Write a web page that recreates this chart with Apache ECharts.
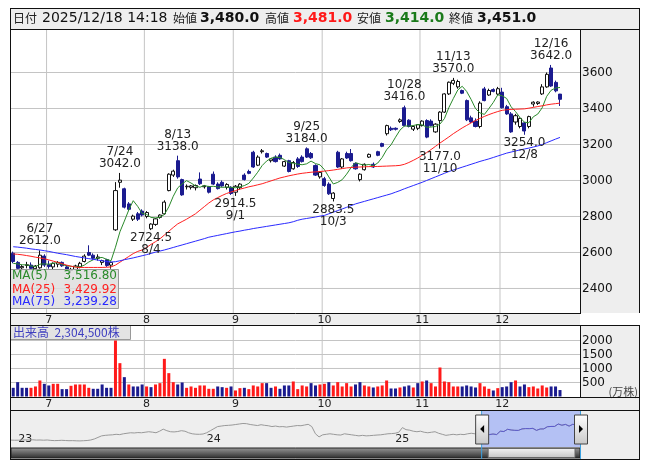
<!DOCTYPE html>
<html><head><meta charset="utf-8">
<script src="https://cdn.jsdelivr.net/npm/echarts@6/dist/echarts.min.js"></script>
<style>html,body{margin:0;padding:0;background:#fff}#c{width:653px;height:470px}</style>
</head><body><div id="c"></div>
<script>
// ---------- data ----------
const quoteTime = '2025/12/18 14:18';
const dates = ['6/19','6/20','6/23','6/24','6/25','6/26','6/27','6/30',
'7/1','7/2','7/3','7/4','7/7','7/8','7/9','7/10','7/11','7/14','7/15','7/16','7/17','7/18','7/22','7/23','7/24','7/25','7/28','7/29','7/30','7/31',
'8/1','8/4','8/5','8/6','8/7','8/8','8/12','8/13','8/14','8/15','8/18','8/19','8/20','8/21','8/22','8/25','8/26','8/27','8/28','8/29',
'9/1','9/2','9/3','9/4','9/5','9/8','9/9','9/10','9/11','9/12','9/16','9/17','9/18','9/19','9/22','9/24','9/25','9/26','9/29','9/30',
'10/1','10/2','10/3','10/6','10/7','10/8','10/9','10/10','10/14','10/15','10/16','10/17','10/20','10/21','10/22','10/23','10/24','10/27','10/28','10/29','10/30','10/31',
'11/4','11/5','11/6','11/7','11/10','11/11','11/12','11/13','11/14','11/17','11/18','11/19','11/20','11/21','11/25','11/26','11/27','11/28',
'12/1','12/2','12/3','12/4','12/5','12/8','12/9','12/10','12/11','12/12','12/15','12/16','12/17','12/18'];
const futureDates = ['12/19','12/22','12/23','12/24'];
const open = [2596,2545,2515,2528,2530,2510,2515,2580,
2532,2520,2535,2545,2520,2500,2506,2520,2550,2600,2585,2568,2545,2560,2530,2726,2990,2954,2870,2785,2815,2830,
2800,2732,2756,2795,2815,2944,3030,3110,3005,2965,2962,2960,3008,2965,2965,3035,2980,2990,2962,2962,
2935,2960,3030,3050,3157,3085,3160,3150,3110,3130,3140,3080,3110,3065,3120,3130,3176,3150,3083,3020,
3010,2980,2900,3157,3075,3150,3150,3095,3005,3060,3130,3090,3160,3205,3260,3290,3290,3328,3404,3335,3285,3290,
3305,3333,3330,3270,3333,3380,3481,3540,3520,3500,3444,3348,3330,3300,3509,3475,3505,3480,
3491,3410,3370,3325,3300,3320,3300,3425,3428,3481,3520,3625,3545,3480];
const high = [2605,2552,2530,2548,2545,2530,2612,2590,
2555,2545,2552,2550,2530,2515,2532,2548,2590,2640,2595,2590,2560,2565,2550,2991,3042,2960,2880,2810,2825,2840,
2830,2762,2792,2812,2890,3040,3060,3138,3010,2978,2975,2978,3045,2975,2970,3050,2990,3000,2985,2968,
2975,2985,3040,3060,3165,3140,3175,3155,3125,3140,3150,3110,3115,3108,3130,3140,3184,3158,3090,3050,
3020,2990,2935,3165,3125,3160,3175,3100,3040,3095,3150,3100,3165,3210,3310,3300,3295,3345,3416,3340,3305,3312,
3335,3340,3340,3318,3385,3485,3550,3570,3560,3505,3450,3360,3345,3440,3520,3510,3512,3520,
3515,3420,3380,3370,3350,3325,3360,3440,3440,3535,3600,3642,3555,3481];
const low = [2540,2505,2495,2512,2505,2500,2510,2520,
2510,2505,2518,2520,2495,2485,2500,2512,2545,2580,2560,2555,2530,2520,2510,2720,2960,2845,2830,2775,2775,2800,
2790,2724.5,2748,2788,2810,2940,3020,3010,2915,2950,2950,2945,2975,2955,2928,2975,2950,2965,2950,2920,
2914.5,2950,3000,3035,3070,3080,3150,3125,3100,3100,3115,3075,3045,3060,3070,3100,3125,3120,3025,3010,
2965,2920,2883.5,3070,3065,3120,3105,3060,2995,3055,3125,3070,3135,3185,3250,3275,3278,3320,3300,3295,3275,3280,
3300,3235,3300,3265,3177,3375,3475,3530,3510,3480,3330,3320,3295,3290,3440,3470,3490,3475,
3400,3365,3265,3310,3290,3254,3290,3410,3420,3475,3515,3520,3490,3414];
const close = [2550,2512,2522,2532,2512,2525,2585,2530,
2522,2540,2545,2526,2500,2506,2525,2540,2580,2585,2568,2575,2555,2528,2545,2944,3002,2852,2840,2802,2785,2808,
2822,2758,2787,2808,2880,3035,3052,3020,2920,2968,2970,2972,2982,2970,2935,2980,2955,2970,2978,2928,
2968,2980,3005,3040,3075,3130,3165,3130,3120,3105,3120,3105,3050,3100,3078,3105,3130,3126,3030,3045,
2972,2926,2930,3075,3120,3125,3110,3065,3035,3090,3145,3075,3140,3190,3305,3282,3285,3337,3306,3300,3300,3310,
3330,3241,3305,3313,3380,3481,3546,3556,3550,3485,3337,3325,3300,3430,3444,3500,3495,3510,
3404,3370,3270,3360,3345,3275,3355,3435,3436,3520,3590,3525,3498,3451];
const priorCloses = [2530,2545,2535,2540];
const volume = [310,512,310,310,310,358,572,453,
394,453,453,263,263,382,429,429,429,310,275,275,429,310,310,2000,1191,691,429,358,358,429,
358,334,429,477,1345,834,512,429,501,310,358,310,394,394,275,275,358,334,310,358,
215,298,310,263,394,358,477,477,310,358,275,394,394,536,263,394,358,477,394,429,
453,512,394,512,358,477,358,429,512,394,358,322,358,394,572,286,286,322,358,394,322,477,
536,572,477,358,1036,536,512,358,358,358,394,358,322,477,358,275,215,298,
334,358,512,572,358,429,334,358,286,394,322,358,358,230.45];
// volume bar colour: 1 = red (up), 0 = navy (down)
const volUp = [0,0,0,0,1,1,1,0,
0,1,1,0,0,1,1,1,1,1,0,0,0,0,0,1,1,0,1,0,0,0,
1,0,1,1,1,1,1,0,0,1,1,1,1,1,1,1,0,0,1,0,
1,1,0,1,1,1,1,0,0,1,0,0,0,1,1,1,1,0,0,1,
1,0,1,1,1,1,1,0,0,1,1,0,1,1,1,0,0,1,0,0,1,0,
1,0,1,1,1,1,1,1,1,0,0,0,0,1,1,1,0,1,
0,0,0,1,0,0,1,1,1,1,1,0,0,0];
const ma25 = [2592,2590,2587,2583,2579,2574,2570,2565,2559,2552,2545,2538,2530,2524,2519,2517,2517,2517,2517,2517,2517,2518,2520,2530,2546,2562,2578,2594,2606,2614,
2628,2645,2660,2676,2697,2718,2739,2759,2772,2785,2800,2815,2835,2855,2875,2892,2905,2917,2928,2936,
2944,2952,2958,2965,2970,2976,2982,2990,2998,3006,3014,3020,3026,3031,3036,3040,3043,3046,3048,3050,
3052,3055,3058,3062,3066,3070,3072,3074,3075,3076,3077,3078,3078,3079,3080,3081,3082,3084,3090,3100,3112,3125,
3140,3155,3172,3190,3208,3225,3242,3260,3276,3292,3306,3320,3333,3345,3356,3366,3375,3383,
3390,3393,3395,3396,3397,3398,3402,3406,3411,3415,3420,3424,3427,3429.92];
const ma75 = [2632,2630,2627,2624,2620,2617,2614,2610,2606,2601,2596,2592,2588,2583,2578,2574,2570,2566,2562,2558,2554,2550,2547,2549,2554,2560,2565,2570,2576,2582,
2588,2595,2602,2608,2614,2621,2628,2635,2642,2649,2656,2663,2670,2677,2685,2690,2695,2700,2705,2710,
2715,2719,2724,2728,2733,2737,2741,2745,2749,2753,2757,2761,2765,2771,2779,2785,2789,2793,2797,2802,
2806,2815,2824,2833,2842,2851,2860,2870,2877,2884,2891,2898,2905,2912,2919,2926,2935,2944,2954,2963,2972,2981,
2990,3000,3010,3020,3030,3040,3050,3058,3066,3074,3082,3090,3098,3106,3113,3120,3128,3136,
3144,3152,3158,3164,3170,3175,3180,3186,3192,3200,3210,3220,3230,3239.28];
const priceTicks = [2400,2600,2800,3000,3200,3400,3600];
const volTicks = [500,1000,1500,2000];
const highMarks = ['6/27','7/24','8/13','9/25','10/28','11/13','12/16'];
const lowMarks = ['8/4','9/1','10/3','11/10','12/8'];
// long-term navigator: weekly closes (approx.) from the week of 2022/12/23
const navFirstWeek = '2022/12/23';
const navClose = [1990,1975,
1980,1990,2010,2000, 2020,1990,2000,1980, 2000,1960,1940,1950,1970, 1950,1930,1940,1920, 1910,1930,1950,2000, 2100,2250,2400,2450,2480,
2500,2550,2520,2600, 2650,2700,2680,2720, 2700,2750,2800,2760,2700, 2850,3050,2900,2800, 2780,2820,2900,2850, 2700,2600,2560,2550,2580,
2700,2900,3100,3300, 3350,3400,3420,3450, 3500,3550,3600,3580,3500, 3450,3400,3480,3420, 3380,3300,3350,3280,3300, 3250,3300,3350,3400,
3380,3450,3520,3300, 2600,2300,2500,2550,2600, 2550,2500,2480,2600, 2550,2500,2450,2400, 2450,2400,2420,2450,2480, 2500,2550,2600,2620,
2650,2750,3200,3000,2950, 2850,2800,2850,2750, 2700,2750,2800,2650, 2550,2450,2500,2550, 2500,2550,2520,2600,2650, 2600,2580,2512,2585,
2526,2580,2528,2852, 2822,3035,2968,2935,2928, 3075,3105,3100,3126, 2930,3065,3075,3285,3310, 3313,3550,3430,3510, 3345,3520,3451];
const navSelStart = '2025/06/20';

// ---------- derived ----------
const cats = dates.concat(futureDates);
const monthOf = s => parseInt(s.split('/')[0], 10);
const monthIdx = cats.map((d, i) => (i > 0 && monthOf(d) !== monthOf(cats[i - 1])) ? i : -1).filter(i => i > 0);
const isMonthStart = i => monthIdx.includes(i);
const closesExt = priorCloses.concat(close);
const ma5 = close.map((_, i) => { let s = 0; for (let k = 0; k < 5; k++) s += closesExt[i + k]; return +(s / 5).toFixed(2); });
const candle = dates.map((_, i) => [open[i], close[i], low[i], high[i]]);
const UP = '#ffffff', DOWN = '#1b1b8f', VRED = '#ff1a1a', VBLUE = '#1b1b8f';
const volData = volume.map((v, i) => ({ value: v, itemStyle: { color: volUp[i] ? VRED : VBLUE } }));
const fmt = (v, d) => v.toLocaleString('en-US', { minimumFractionDigits: d, maximumFractionDigits: d });
const pad = n => (n < 10 ? '0' : '') + n;
const navDates = [];
{ const p = navFirstWeek.split('/').map(Number); const t0 = Date.UTC(p[0], p[1] - 1, p[2]);
  for (let k = 0; k <= navClose.length; k++) { const d = new Date(t0 + k * 7 * 864e5); navDates.push(d.getUTCFullYear() + '/' + pad(d.getUTCMonth() + 1) + '/' + pad(d.getUTCDate())); } }
const navYearStart = navDates.map((d, i) => i > 0 && d.slice(0, 4) !== navDates[i - 1].slice(0, 4));
const selIdx = navDates.indexOf(navSelStart);
const navSel = navClose.map((v, i) => i >= selIdx ? v : null);

const PMIN = 2261.1, PMAX = 3838.9, VMIN = -36, VMAX = 2536;
const GRID = '#c4c4c4';
const font = 'DejaVu Sans';
const cjk = '"Noto Sans CJK JP", "DejaVu Sans"';

// grid lines as a polyline broken by gaps: horizontal at value ticks, vertical at month starts
function gridPath(ticks, ymin, ymax) {
  const d = [];
  ticks.forEach(v => { d.push([0, v], [cats.length, v], [cats.length, '-']); });
  monthIdx.forEach(i => { d.push([i, ymin], [i, ymax], [i, '-']); });
  return d;
}

const markData = highMarks.map(d => {
  const i = dates.indexOf(d);
  return { coord: [d, high[i]], value: high[i], label: { position: 'top', distance: 3, formatter: d + '\n' + high[i].toFixed(1) } };
}).concat(lowMarks.map(d => {
  const i = dates.indexOf(d);
  return { coord: [d, low[i]], value: low[i], label: { position: 'bottom', distance: 2, formatter: low[i].toFixed(1) + '\n' + d } };
}));

const chart = echarts.init(document.getElementById('c'), null, { renderer: 'canvas' });
const last = dates.length - 1;
const monthAxis = (gi) => ({ type: 'category', gridIndex: gi, data: cats, boundaryGap: true,
  axisLine: { show: false }, axisTick: { show: false }, splitLine: { show: false },
  axisLabel: { interval: (i) => isMonthStart(i), formatter: v => String(monthOf(v)), color: '#222', fontSize: 11, fontFamily: font, margin: 1 } });
const slotAxis = (gi) => ({ type: 'value', gridIndex: gi, min: 0, max: cats.length, show: false });

const option = {
  animation: false,
  backgroundColor: '#fff',
  grid: [
    { left: 11, top: 29.5, width: 569, height: 284, show: false },
    { left: 11, top: 325.5, width: 569, height: 72, show: false },
    { left: 11, top: 411, width: 569, height: 36, show: false }
  ],
  xAxis: [
    monthAxis(0), monthAxis(1),
    { type: 'category', gridIndex: 2, data: navDates, boundaryGap: false,
      axisLine: { show: false }, axisTick: { show: false }, splitLine: { show: false },
      axisLabel: { inside: true, interval: (i) => navYearStart[i], formatter: v => v.slice(2, 4), color: '#222', fontSize: 11, fontFamily: font, align: 'left', margin: 2 } },
    slotAxis(0), slotAxis(1)
  ],
  yAxis: [
    { type: 'value', gridIndex: 0, position: 'right', min: PMIN, max: PMAX, minInterval: 200, maxInterval: 200, splitNumber: 8,
      axisLine: { show: false }, axisTick: { show: false }, splitLine: { show: false },
      axisLabel: { formatter: v => priceTicks.includes(v) ? String(v) : '', color: '#111', fontSize: 12, fontFamily: font, margin: 2, padding: [0, 0, 4, 0] } },
    { type: 'value', gridIndex: 1, position: 'right', min: VMIN, max: VMAX, minInterval: 500, maxInterval: 500, splitNumber: 5,
      axisLine: { show: false }, axisTick: { show: false }, splitLine: { show: false },
      axisLabel: { formatter: v => volTicks.includes(v) ? String(v) : '', color: '#111', fontSize: 12, fontFamily: font, margin: 2 } },
    { type: 'value', gridIndex: 2, min: 1321, max: 4808, show: false }
  ],
  series: [
    { name: 'grid-price', type: 'line', xAxisIndex: 3, yAxisIndex: 0, data: gridPath(priceTicks, PMIN, PMAX), connectNulls: false,
      symbol: 'none', silent: true, z: 1, lineStyle: { color: GRID, width: 1 } },
    { name: 'grid-volume', type: 'line', xAxisIndex: 4, yAxisIndex: 1, data: gridPath(volTicks, VMIN, VMAX), connectNulls: false,
      symbol: 'none', silent: true, z: 1, lineStyle: { color: GRID, width: 1 } },
    { name: 'price', type: 'candlestick', xAxisIndex: 0, yAxisIndex: 0, data: candle, barWidth: 3.6, z: 2,
      itemStyle: { color: UP, color0: DOWN, borderColor: '#111', borderColor0: DOWN, borderWidth: 1 },
      markPoint: { symbol: 'circle', symbolSize: 0, silent: true,
        label: { color: '#222', fontSize: 12, lineHeight: 12, fontFamily: font },
        data: markData } },
    { name: 'MA(5)', type: 'line', xAxisIndex: 0, yAxisIndex: 0, data: ma5, symbol: 'none', lineStyle: { color: '#2a8a2a', width: 1 }, z: 3 },
    { name: 'MA(25)', type: 'line', xAxisIndex: 0, yAxisIndex: 0, data: ma25, symbol: 'none', lineStyle: { color: '#ff2020', width: 1 }, z: 3 },
    { name: 'MA(75)', type: 'line', xAxisIndex: 0, yAxisIndex: 0, data: ma75, symbol: 'none', lineStyle: { color: '#2a2aff', width: 1 }, z: 3 },
    { name: 'volume', type: 'bar', xAxisIndex: 1, yAxisIndex: 1, data: volData, barWidth: 3, z: 2 },
    { name: 'nav', type: 'line', xAxisIndex: 2, yAxisIndex: 2, data: navClose, symbol: 'none', lineStyle: { color: '#999', width: 1 },
      markArea: { silent: true, itemStyle: { color: 'rgba(160,178,245,0.75)' }, data: [[{ xAxis: navSelStart }, { xAxis: navDates[navDates.length - 1] }]] } },
    { name: 'navSel', type: 'line', xAxisIndex: 2, yAxisIndex: 2, data: navSel, symbol: 'none', lineStyle: { color: '#5a5ad0', width: 1 }, z: 4 }
  ]
};
chart.setOption(option);

// ---------- decorations ----------
const selX0 = chart.convertToPixel({ xAxisIndex: 2 }, navSelStart);
const selX1 = chart.convertToPixel({ xAxisIndex: 2 }, navDates[navDates.length - 1]);
const grad = (a, b) => new echarts.graphic.LinearGradient(0, 0, 0, 1, [{ offset: 0, color: a }, { offset: 1, color: b }]);
const handle = (x, dir) => ({ type: 'group', x: x, y: 415, children: [
  { type: 'rect', z: 60, shape: { x: -6.5, y: 0, width: 13, height: 29 }, style: { fill: grad('#ffffff', '#c8c8c8'), stroke: '#444', lineWidth: 1 } },
  { type: 'polygon', z: 61, shape: { points: dir < 0 ? [[2, 10], [2, 18], [-2, 14]] : [[-2, 10], [-2, 18], [2, 14]] }, style: { fill: '#000' } }
] });
const G = '#eeeeee';
const bg = (x, y, w, h) => ({ type: 'rect', z: -10, silent: true, shape: { x: x, y: y, width: w, height: h }, style: { fill: G } });
const ln = (x1, y1, x2, y2) => ({ type: 'line', z: 50, silent: true, shape: { x1: x1, y1: y1, x2: x2, y2: y2 }, style: { stroke: '#111', lineWidth: 1 } });
const htxt = (x, s, st) => ({ type: 'text', z: 50, x: x, y: 18.5, style: Object.assign({ text: s, verticalAlign: 'middle' }, st) });
const LBL = { fontFamily: cjk, fontSize: 12, fill: '#222' };
const VAL = (c) => ({ fontFamily: font, fontSize: 14, fontWeight: 'bold', fill: c });
chart.setOption({ graphic: [
  bg(10, 8, 630, 21), bg(580, 29, 60, 284), bg(10, 313, 570, 12), bg(580, 325, 60, 73), bg(10, 397, 630, 13), bg(10, 410, 630, 50),
  ln(10, 8.5, 640, 8.5), ln(10.5, 8, 10.5, 460), ln(639.5, 8, 639.5, 313), ln(639.5, 325, 639.5, 460), ln(10, 459.5, 640, 459.5),
  ln(10, 29.5, 640, 29.5), ln(580.5, 29, 580.5, 313), ln(10, 313.5, 581, 313.5), ln(10, 325.5, 640, 325.5),
  ln(580.5, 325, 580.5, 398), ln(10, 397.5, 640, 397.5), ln(10, 410.5, 640, 410.5),
  htxt(13, '日付', LBL),
  htxt(42, quoteTime, { fontFamily: font, fontSize: 14, fill: '#111' }),
  htxt(173, '始値', LBL), htxt(200, fmt(open[last], 1), VAL('#111')),
  htxt(265, '高値', LBL), htxt(293, fmt(high[last], 1), VAL('#ff1a1a')),
  htxt(357, '安値', LBL), htxt(385, fmt(low[last], 1), VAL('#1a7a1a')),
  htxt(449, '終値', LBL), htxt(477, fmt(close[last], 1), VAL('#111')),
  { type: 'group', x: 10, y: 269, children: [
    { type: 'rect', z: 40, shape: { x: 0.5, y: 0.5, width: 108, height: 39 }, style: { fill: 'rgba(222,222,222,0.85)', stroke: '#999', lineWidth: 1 } },
    { type: 'text', z: 41, x: 2, y: 7, style: { text: 'MA(5)', fontFamily: font, fontSize: 12, fill: '#2a8a2a', verticalAlign: 'middle' } },
    { type: 'text', z: 41, x: 107, y: 7, style: { text: fmt(ma5[last], 2), fontFamily: font, fontSize: 12, fill: '#2a8a2a', align: 'right', verticalAlign: 'middle' } },
    { type: 'text', z: 41, x: 2, y: 20.5, style: { text: 'MA(25)', fontFamily: font, fontSize: 12, fill: '#ff2020', verticalAlign: 'middle' } },
    { type: 'text', z: 41, x: 107, y: 20.5, style: { text: fmt(ma25[last], 2), fontFamily: font, fontSize: 12, fill: '#ff2020', align: 'right', verticalAlign: 'middle' } },
    { type: 'text', z: 41, x: 2, y: 33, style: { text: 'MA(75)', fontFamily: font, fontSize: 12, fill: '#2a2aff', verticalAlign: 'middle' } },
    { type: 'text', z: 41, x: 107, y: 33, style: { text: fmt(ma75[last], 2), fontFamily: font, fontSize: 12, fill: '#2a2aff', align: 'right', verticalAlign: 'middle' } }
  ] },
  { type: 'group', x: 10, y: 325, children: [
    { type: 'rect', z: 40, shape: { x: 0.5, y: 0.5, width: 120, height: 14 }, style: { fill: 'rgba(222,222,222,0.85)', stroke: '#999', lineWidth: 1 } },
    { type: 'text', z: 41, x: 3, y: 7.5, style: { text: '出来高  ' + fmt(Math.round(volume[last] * 10000), 0) + '株', fontFamily: cjk, fontSize: 12, fill: '#4040c0', verticalAlign: 'middle' } }
  ] },
  { type: 'text', z: 40, x: 638, y: 392, style: { text: '(万株)', fontFamily: cjk, fontSize: 11, fill: '#444', align: 'right', verticalAlign: 'middle' } },
  { type: 'rect', z: 40, shape: { x: 11, y: 448, width: 569, height: 10 }, style: { fill: grad('#9a9a9a', '#2a2a2a'), stroke: '#222', lineWidth: 1 } },
  { type: 'rect', z: 41, shape: { x: selX0 + 6, y: 448.5, width: selX1 - selX0 - 11, height: 9 }, style: { fill: grad('#f4f4f4', '#c4c4c4'), stroke: '#666', lineWidth: 1 } },
  { type: 'line', z: 55, shape: { x1: selX0 - 0.5, y1: 411, x2: selX0 - 0.5, y2: 459 }, style: { stroke: '#3aa0e0', lineWidth: 1 } },
  { type: 'line', z: 55, shape: { x1: selX1 + 0.5, y1: 411, x2: selX1 + 0.5, y2: 459 }, style: { stroke: '#3aa0e0', lineWidth: 1 } },
  handle(selX0, -1), handle(selX1 + 1, 1)
] });
</script></body></html>
